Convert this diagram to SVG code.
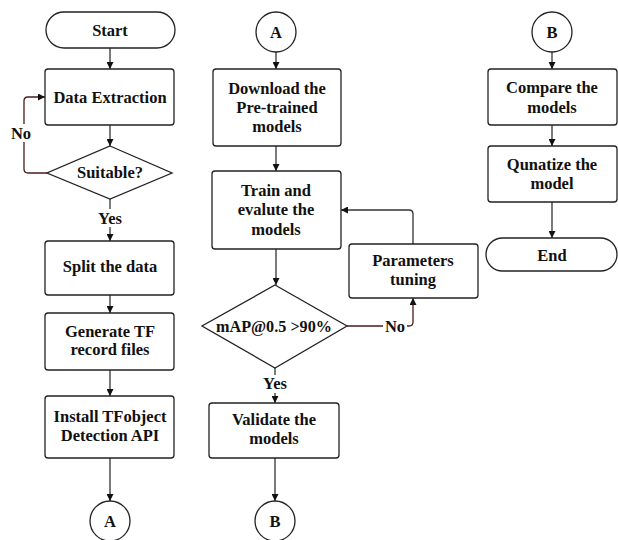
<svg xmlns="http://www.w3.org/2000/svg" width="618" height="540" viewBox="0 0 618 540">
<style>
.box{fill:#fff;stroke:#222;stroke-width:1.3}
.t{font-family:"Liberation Serif","Times New Roman",serif;font-weight:bold;font-size:16.5px;fill:#111;text-anchor:middle}
.c{fill:none;stroke:#333;stroke-width:1.3}
.no{fill:none;stroke:#4a1c1c;stroke-width:1.3}
.yes{fill:none;stroke:#2b3d2b;stroke-width:1.3}
</style>
<defs>
<marker id="ah" viewBox="0 0 8 8" refX="8" refY="4" markerWidth="7" markerHeight="7" markerUnits="userSpaceOnUse" orient="auto">
<path d="M0,0 L8,4 L0,8 z" fill="#111"/>
</marker>
</defs>
<g id="connectors">
<line class="c" x1="110" y1="48" x2="110" y2="69" marker-end="url(#ah)"/>
<line class="c" x1="110" y1="125" x2="110" y2="146" marker-end="url(#ah)"/>
<path class="no" d="M47,173 H28 Q24,173 24,169 V101 Q24,97 28,97 H45" marker-end="url(#ah)"/>
<line class="yes" x1="110" y1="199" x2="110" y2="241" marker-end="url(#ah)"/>
<line class="c" x1="110" y1="295" x2="110" y2="313" marker-end="url(#ah)"/>
<line class="c" x1="110" y1="370" x2="110" y2="396" marker-end="url(#ah)"/>
<line class="c" x1="110" y1="458" x2="110" y2="501" marker-end="url(#ah)"/>
<line class="c" x1="276" y1="52" x2="276" y2="69" marker-end="url(#ah)"/>
<line class="c" x1="276" y1="146" x2="276" y2="171" marker-end="url(#ah)"/>
<line class="c" x1="276" y1="249" x2="276" y2="285" marker-end="url(#ah)"/>
<path class="c" d="M413,244 V214 Q413,210 409,210 H341" marker-end="url(#ah)"/>
<path class="no" d="M347,326 H409 Q413,326 413,322 V298" marker-end="url(#ah)"/>
<line class="yes" x1="275" y1="368" x2="275" y2="403" marker-end="url(#ah)"/>
<line class="c" x1="275" y1="458" x2="275" y2="501" marker-end="url(#ah)"/>
<line class="c" x1="552" y1="52" x2="552" y2="69" marker-end="url(#ah)"/>
<line class="c" x1="552" y1="125" x2="552" y2="146" marker-end="url(#ah)"/>
<line class="c" x1="552" y1="202" x2="552" y2="238" marker-end="url(#ah)"/>
<rect x="12" y="124" width="19" height="18" fill="#fff"/>
<text class="t" x="21" y="139">No</text>
<rect x="95" y="209" width="30" height="18" fill="#fff"/>
<text class="t" x="110" y="224">Yes</text>
<rect x="383" y="318" width="24" height="17" fill="#fff"/>
<text class="t" x="395" y="332">No</text>
<rect x="260" y="375" width="30" height="18" fill="#fff"/>
<text class="t" x="275" y="389">Yes</text>
</g>
<g id="start"><rect class="box" x="46" y="12" width="129" height="36" rx="18"/><text class="t" x="110" y="36">Start</text></g>
<g id="data-extraction"><rect class="box" x="45" y="69" width="129" height="56" rx="3"/><text class="t" x="110" y="103">Data Extraction</text></g>
<g id="suitable"><polygon class="box" points="110,146 172,173 110,199 47,173"/><text class="t" x="110" y="178">Suitable?</text></g>
<g id="split"><rect class="box" x="45" y="241" width="129" height="54" rx="3"/><text class="t" x="110" y="272">Split the data</text></g>
<g id="generate"><rect class="box" x="45" y="313" width="129" height="57" rx="3"/><text class="t" x="110" y="337">Generate TF</text><text class="t" x="110" y="355">record files</text></g>
<g id="install"><rect class="box" x="45" y="396" width="129" height="62" rx="3"/><text class="t" x="110" y="422">Install TFobject</text><text class="t" x="110" y="441">Detection API</text></g>
<g id="conn-a1"><circle class="box" cx="110" cy="521" r="20"/><text class="t" x="110" y="527">A</text></g>
<g id="conn-a2"><circle class="box" cx="276" cy="32" r="20"/><text class="t" x="276" y="38">A</text></g>
<g id="download"><rect class="box" x="213" y="69" width="128" height="77" rx="3"/><text class="t" x="277" y="94">Download the</text><text class="t" x="277" y="113">Pre-trained</text><text class="t" x="277" y="132">models</text></g>
<g id="train"><rect class="box" x="212" y="171" width="129" height="78" rx="3"/><text class="t" x="276" y="196">Train and</text><text class="t" x="276" y="215">evalute the</text><text class="t" x="276" y="235">models</text></g>
<g id="params"><rect class="box" x="349" y="244" width="129" height="54" rx="3"/><text class="t" x="413" y="266">Parameters</text><text class="t" x="413" y="285">tuning</text></g>
<g id="map"><polygon class="box" points="275,285 347,326 275,368 202,326"/><text class="t" x="274" y="332" textLength="116" lengthAdjust="spacingAndGlyphs">mAP@0.5 &gt;90%</text></g>
<g id="validate"><rect class="box" x="209" y="403" width="130" height="55" rx="3"/><text class="t" x="274" y="425">Validate the</text><text class="t" x="274" y="444">models</text></g>
<g id="conn-b1"><circle class="box" cx="275" cy="521" r="20"/><text class="t" x="275" y="527">B</text></g>
<g id="conn-b2"><circle class="box" cx="552" cy="32" r="20"/><text class="t" x="552" y="38">B</text></g>
<g id="compare"><rect class="box" x="488" y="69" width="129" height="56" rx="3"/><text class="t" x="552" y="93">Compare the</text><text class="t" x="552" y="113">models</text></g>
<g id="quantize"><rect class="box" x="488" y="146" width="129" height="56" rx="3"/><text class="t" x="552" y="170">Qunatize the</text><text class="t" x="552" y="189">model</text></g>
<g id="end"><rect class="box" x="486" y="238" width="131" height="33" rx="16.5"/><text class="t" x="552" y="261">End</text></g>
</svg>
